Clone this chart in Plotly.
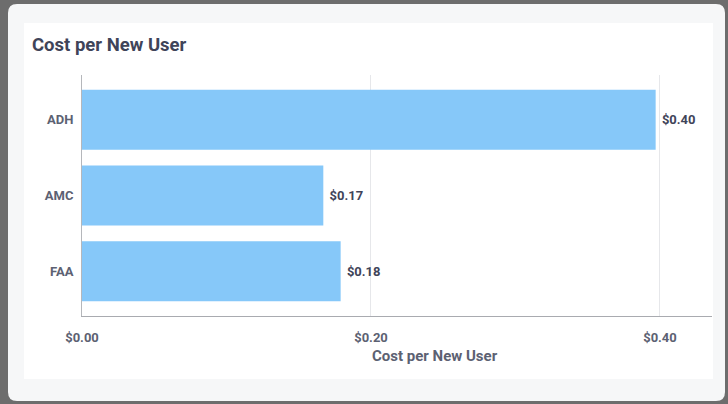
import plotly.graph_objects as go

# Data
channels = ["ADH", "AMC", "FAA"]
cost_per_user = [0.397, 0.167, 0.179]
x_ticks = [0.0, 0.2, 0.4]
x_tick_labels = ["$0.00", "$0.20", "$0.40"]

W, H = 728, 404
L, R, T, B = 82, 16, 75, 88
PW, PH = W - L - R, H - T - B


def px(x):
    return (x - L) / PW


def py(y):
    return (H - B - y) / PH


def rounded_rect(x0, y0, x1, y1, r):
    # rounded rectangle in paper units, corners given in pixels
    pts = [
        f"M {px(x0 + r)},{py(y0)}",
        f"L {px(x1 - r)},{py(y0)}",
        f"Q {px(x1)},{py(y0)} {px(x1)},{py(y0 + r)}",
        f"L {px(x1)},{py(y1 - r)}",
        f"Q {px(x1)},{py(y1)} {px(x1 - r)},{py(y1)}",
        f"L {px(x0 + r)},{py(y1)}",
        f"Q {px(x0)},{py(y1)} {px(x0)},{py(y1 - r)}",
        f"L {px(x0)},{py(y0 + r)}",
        f"Q {px(x0)},{py(y0)} {px(x0 + r)},{py(y0)}",
        "Z",
    ]
    return " ".join(pts)


TICK = "#5c6172"
DARK = "#3f4459"

fig = go.Figure(
    go.Bar(
        x=cost_per_user,
        y=channels,
        orientation="h",
        marker=dict(color="#86c8f9", line=dict(width=0)),
        width=0.79,
        texttemplate=" $%{x:.2f}",
        textposition="outside",
        textfont=dict(family="Roboto", size=13, color=DARK, weight="bold"),
        constraintext="none",
        cliponaxis=False,
        hoverinfo="skip",
    )
)

fig.update_layout(
    width=W,
    height=H,
    margin=dict(l=L, r=R, t=T, b=B),
    paper_bgcolor="#6d6d6d",
    plot_bgcolor="rgba(0,0,0,0)",
    showlegend=False,
    font=dict(family="Roboto", color=TICK),
    shapes=[
        dict(type="path", xref="paper", yref="paper", layer="below",
             path=rounded_rect(8, 4, 725, 401, 9),
             fillcolor="#f6f7f8", line=dict(width=0)),
        dict(type="rect", xref="paper", yref="paper", layer="below",
             x0=px(24), x1=px(713), y0=py(379), y1=py(23),
             fillcolor="#ffffff", line=dict(width=0)),
    ],
    annotations=[
        dict(text="Cost per New User", xref="paper", yref="paper",
             x=px(30), y=py(45), xanchor="left", yanchor="middle",
             showarrow=False,
             font=dict(family="Roboto", size=18.5, color=DARK, weight="bold")),
        dict(text="Cost per New User", xref="paper", yref="paper",
             x=px(435), y=py(356), xanchor="center", yanchor="middle",
             showarrow=False,
             font=dict(family="Roboto", size=15, color=TICK, weight="bold")),
    ],
)

fig.update_xaxes(
    range=[0, 0.436],
    tickvals=x_ticks,
    ticktext=x_tick_labels,
    tickfont=dict(family="Roboto", size=13, color=TICK, weight="bold"),
    showgrid=True,
    gridcolor="#e6e7ea",
    gridwidth=1,
    zeroline=False,
    showline=True,
    linecolor="#a9abb0",
    linewidth=1,
    ticks="",
    ticklabelstandoff=9,
    fixedrange=True,
)

fig.update_yaxes(
    categoryorder="array",
    categoryarray=channels,
    range=[2.59, -0.59],
    tickfont=dict(family="Roboto", size=13, color=TICK, weight="bold"),
    showgrid=False,
    zeroline=False,
    showline=True,
    linecolor="#b5b7bb",
    linewidth=1,
    ticks="",
    ticklabelstandoff=5,
    fixedrange=True,
)

fig.write_html("out.html")
